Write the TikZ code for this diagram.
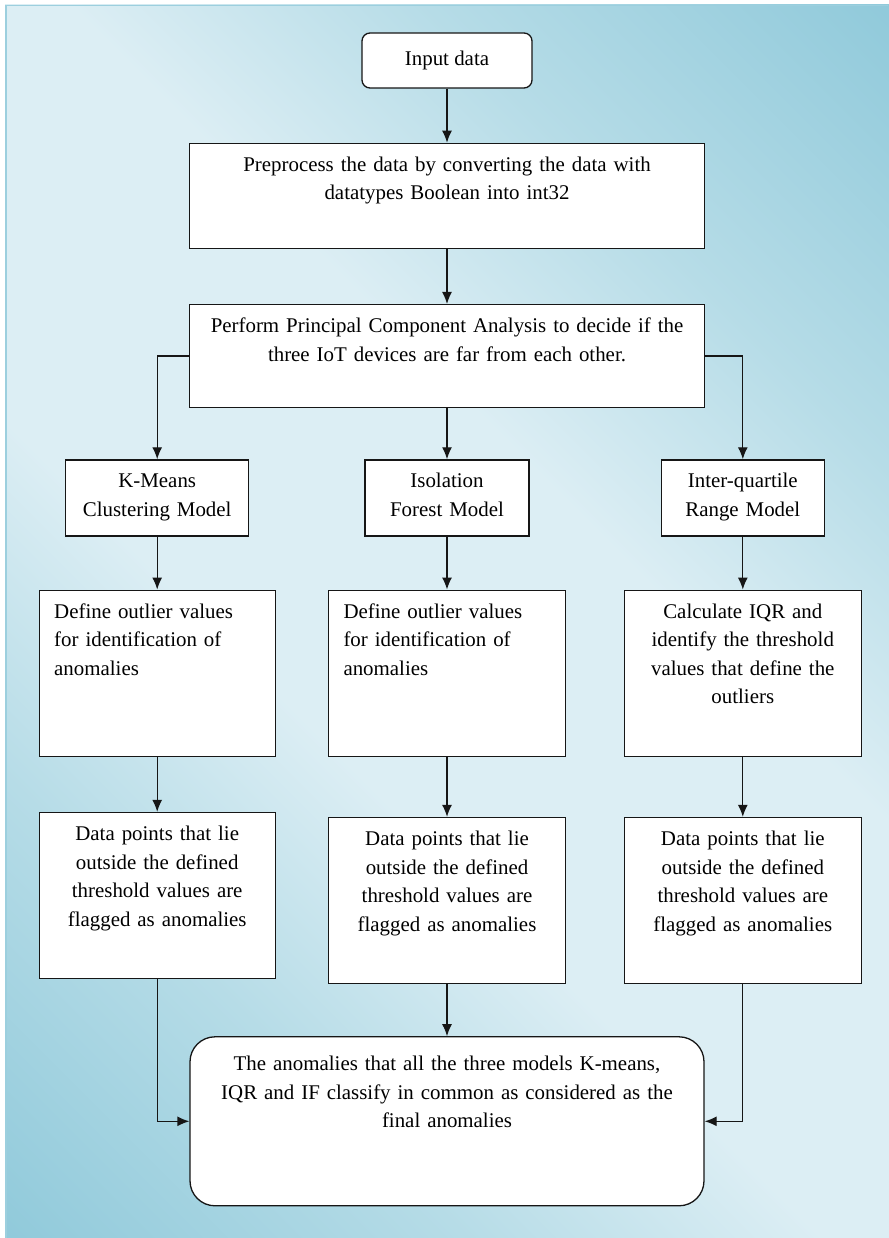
\documentclass[tikz,border=0pt]{standalone}
\usepackage{fontspec}
\setmainfont{Liberation Serif}
\usepackage{xcolor}
\usetikzlibrary{arrows.meta}
\usetikzlibrary{positioning}

\definecolor{bglight}{HTML}{DCEEF4}
\definecolor{bgmid}{HTML}{B6DCE7}
\definecolor{bgdark}{HTML}{8FC9DA}
\definecolor{bgedge}{HTML}{9CCFDE}
\definecolor{ink}{HTML}{161616}
\pgfdeclareverticalshading{backdrop}{100bp}{color(0bp)=(bgdark); color(14bp)=(bgdark); color(30bp)=(bgmid); color(42bp)=(bglight); color(58bp)=(bglight); color(70bp)=(bgmid); color(86bp)=(bgdark); color(100bp)=(bgdark)}

\begin{document}
\begin{tikzpicture}[
		x=1pt, y=1pt,
		font=\fontsize{20.9}{28.5}\selectfont,
		block/.style={draw=ink, line width=1.3pt, fill=white, align=center, inner xsep=0pt, inner ysep=0pt, text height=28pt},
		start/.style={draw=ink, line width=1.3pt, fill=white, rounded corners=8pt, minimum width=170pt, minimum height=55pt},
		flow/.style={draw=ink, line width=1.3pt, -{Latex[length=12pt, width=10pt]}}
	]
	\useasboundingbox (0,0) rectangle (888,-1238);
	\shade[shading=backdrop, shading angle=-45] (5,-5) rectangle (890,-1240);
	\draw[bgedge, line width=1.5pt] (5.75,-1238) -- (5.75,-5.75) -- (888,-5.75);

	\node[start] (input) at (447,-60.5) {Input data};
	\node[block, text width=515pt, text depth=77pt, below=54pt of input] (prep) {Preprocess the data by converting the data with\\ datatypes Boolean into int32};
	\node[block, text width=515pt, text depth=75pt, below=55pt of prep] (pca) {Perform Principal Component Analysis to decide if the\\ three IoT devices are far from each other.};

	\node[block, text width=164pt, text depth=48pt, below=51pt of pca] (iso) {Isolation\\ Forest Model};
	\node[block, text width=183pt, text depth=48pt, left=115pt of iso] (kmeans) {K-Means\\ Clustering Model};
	\node[block, text width=163pt, text depth=48pt, right=131pt of iso] (iqr) {Inter-quartile\\ Range Model};

	\node[block, text width=206pt, text depth=138pt, inner xsep=15pt, align=left, below=53pt of kmeans] (outk) {Define outlier values\\ for identification of\\ anomalies};
	\node[block, text width=207pt, text depth=138pt, inner xsep=15pt, align=left, below=53pt of iso] (outi) {Define outlier values\\ for identification of\\ anomalies};
	\node[block, text width=237pt, text depth=138pt, below=53pt of iqr] (calc) {Calculate IQR and\\ identify the threshold\\ values that define the\\ outliers};

	\node[block, text width=236pt, text depth=138pt, below=55pt of outk] (flagk) {Data points that lie\\ outside the defined\\ threshold values are\\ flagged as anomalies};
	\node[block, text width=237pt, text depth=138pt, below=60pt of outi] (flagi) {Data points that lie\\ outside the defined\\ threshold values are\\ flagged as anomalies};
	\node[block, text width=237pt, text depth=138pt, below=60pt of calc] (flagq) {Data points that lie\\ outside the defined\\ threshold values are\\ flagged as anomalies};

	\node[block, rounded corners=25pt, text width=514pt, text height=34pt, text depth=135pt, below=52pt of flagi] (final) {The anomalies that all the three models K-means,\\ IQR and IF classify in common as considered as the\\ final anomalies};

	\draw[flow] (input) -- (prep);
	\draw[flow] (prep) -- (pca);
	\draw[flow] (pca.west) -| (kmeans.north);
	\draw[flow] (pca) -- (iso);
	\draw[flow] (pca.east) -| (iqr.north);
	\draw[flow] (kmeans) -- (outk);
	\draw[flow] (iso) -- (outi);
	\draw[flow] (iqr) -- (calc);
	\draw[flow] (outk) -- (flagk);
	\draw[flow] (outi) -- (flagi);
	\draw[flow] (calc) -- (flagq);
	\draw[flow] (flagk.south) |- (final.west);
	\draw[flow] (flagi) -- (final);
	\draw[flow] (flagq.south) |- (final.east);
\end{tikzpicture}
\end{document}
